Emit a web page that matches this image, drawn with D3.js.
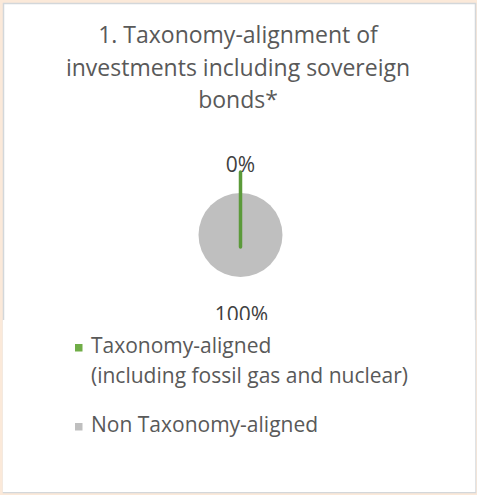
<!DOCTYPE html>
<html><head><meta charset="utf-8">
<script src="https://cdn.jsdelivr.net/npm/d3@7"></script>
<style>html,body{margin:0;padding:0;background:#fbe9d9;}svg{display:block;}</style>
</head><body>
<svg id="c" width="477" height="495"></svg>
<script>
const titleLines = ["1. Taxonomy-alignment of", "investments including sovereign", "bonds*"];
const categories = ["Taxonomy-aligned (including fossil gas and nuclear)", "Non Taxonomy-aligned"];
const legendLines = [["Taxonomy-aligned", "(including fossil gas and nuclear)"], ["Non Taxonomy-aligned"]];
const values = [0, 100];
const valueLabels = ["0%", "100%"];
const colors = ["#5b9a3a", "#bfbfbf"];
const legendColors = ["#70ad47", "#bfbfbf"];

const svg = d3.select("#c");
const font = "'Open Sans', 'Noto Sans', sans-serif";
const textColor = "#595959";

// frame
svg.append("rect").attr("x", 3.5).attr("y", 3.5).attr("width", 472).attr("height", 489)
  .attr("fill", "#fff").attr("stroke", "#d3d7da").attr("stroke-width", 1.5);

// title
svg.append("g").selectAll("text").data(titleLines).join("text")
  .attr("x", 238).attr("y", (d, i) => 43 + i * 32.5)
  .attr("text-anchor", "middle").attr("font-family", font).attr("font-size", 23)
  .attr("fill", textColor).text(d => d);

// pie
const cx = 240.5, cy = 235, r = 42;
const pie = d3.pie().sort(null).value(d => d)(values);
const arc = d3.arc().innerRadius(0).outerRadius(r);
const g = svg.append("g").attr("transform", `translate(${cx},${cy})`);
g.selectAll("path.slice").data(pie).join("path").attr("class", "slice")
  .attr("d", arc).attr("fill", (d, i) => colors[i]);
// zero-width slice drawn as its edge line
const zero = pie.filter(d => d.endAngle - d.startAngle < 1e-6);
g.selectAll("line.zero").data(zero).join("line").attr("class", "zero")
  .attr("x1", d => Math.sin(d.startAngle) * -12).attr("y1", d => -Math.cos(d.startAngle) * -12)
  .attr("x2", d => Math.sin(d.startAngle) * (r + 21)).attr("y2", d => -Math.cos(d.startAngle) * (r + 21))
  .attr("stroke", colors[0]).attr("stroke-width", 3.5).attr("stroke-linecap", "round");

// labels
const labelPos = [[0, 172 - cy], [1, 322 - cy]];
g.selectAll("text.lbl").data(pie).join("text").attr("class", "lbl")
  .attr("x", (d, i) => labelPos[i][0]).attr("y", (d, i) => labelPos[i][1])
  .attr("text-anchor", "middle")
  .attr("font-family", font).attr("font-size", 21).attr("fill", "#404040")
  .text((d, i) => valueLabels[i]);

// legend panel covering bottom of the plot
svg.append("rect").attr("x", 2.8).attr("y", 320).attr("width", 472.5).attr("height", 172).attr("fill", "#fff");

const lg = svg.append("g");
const legY = [353, 432];
const markY = [344, 423];
legendLines.forEach((lines, i) => {
  lg.append("rect").attr("x", 75).attr("y", markY[i]).attr("width", 7.5).attr("height", 7.5).attr("fill", legendColors[i]);
  lines.forEach((t, j) => {
    lg.append("text").attr("x", 91).attr("y", legY[i] + j * 30)
      .attr("font-family", font).attr("font-size", 21)
      .attr("fill", textColor).text(t);
  });
});
</script>
</body></html>
